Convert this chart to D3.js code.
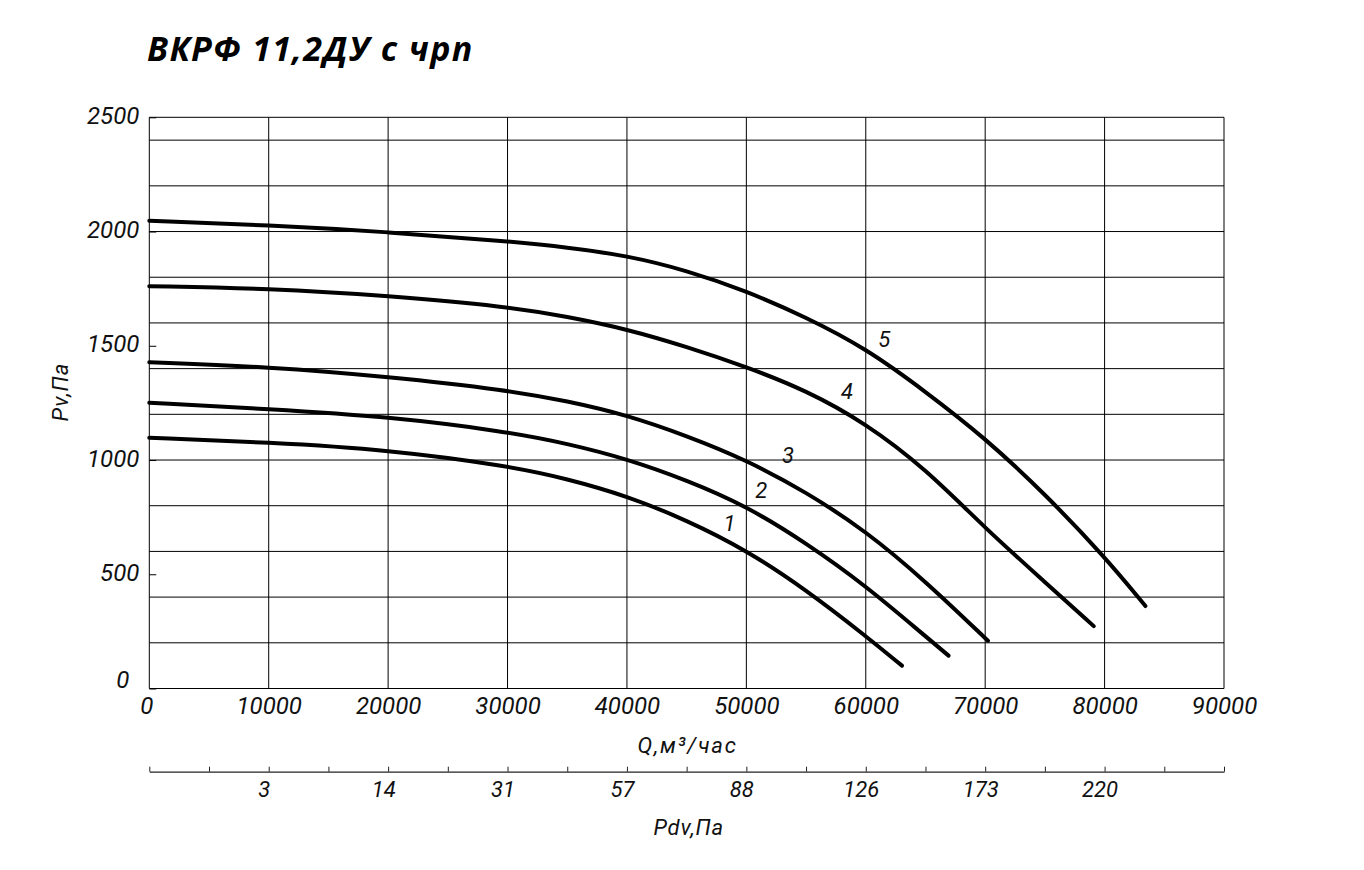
<!DOCTYPE html>
<html>
<head>
<meta charset="utf-8">
<script src="https://cdn.jsdelivr.net/npm/d3@7"></script>
<style>
  html, body { margin: 0; padding: 0; background: #fff; }
  svg { display: block; }
  .tick text { font-family: Roboto, "Liberation Sans", sans-serif; font-style: italic; fill: #111; }
</style>
</head>
<body>
<svg id="chart" width="1364" height="870"></svg>
<script>
// ---------- data ----------
const titleText = "ВКРФ 11,2ДУ с чрп";
const qTicks = [0, 10000, 20000, 30000, 40000, 50000, 60000, 70000, 80000, 90000];
const pvTicks = [0, 500, 1000, 1500, 2000, 2500];
const pvGrid = [0, 200, 400, 600, 800, 1000, 1200, 1400, 1600, 1800, 2000, 2200, 2400, 2500];
const pdvTickQ = [0, 5000, 10000, 15000, 20000, 25000, 30000, 35000, 40000, 45000, 50000, 55000, 60000, 65000, 70000, 75000, 80000, 85000, 90000];
const pdvLabelQ = [10000, 20000, 30000, 40000, 50000, 60000, 70000, 80000];
const pdvLabels = ["3", "14", "31", "57", "88", "126", "173", "220"];
const xTitle = "Q,м³/час";
const yTitle = "Pv,Па";
const x2Title = "Pdv,Па";

const curve1 = [[0,1098],[10000,1077],[20000,1045],[30000,975],[35000,918],[40000,843],[45000,737],[50000,606],[55000,432],[60000,230],[63030,100]];
const curve2 = [[0,1251],[10000,1223],[20000,1190],[30000,1124],[35000,1072],[40000,1005],[45000,912],[50000,799],[55000,637],[60000,450],[65000,228],[66930,144]];
const curve3 = [[0,1428],[10000,1408],[20000,1365],[30000,1306],[35000,1258],[40000,1197],[45000,1106],[50000,1000],[55000,860],[60000,690],[65000,470],[70230,209]];
const curve4 = [[0,1761],[10000,1751],[20000,1719],[30000,1671],[35000,1628],[40000,1573],[45000,1496],[50000,1408],[55000,1305],[60000,1161],[65000,962],[70000,701],[75000,466],[79090,273]];
const curve5 = [[0,2047],[10000,2028],[20000,1998],[30000,1958],[35000,1931],[40000,1895],[45000,1830],[50000,1740],[55000,1625],[60000,1489],[65000,1300],[70000,1096],[75000,852],[80000,577],[83420,361]];
const curves = [curve1, curve2, curve3, curve4, curve5];
const curveNames = ["1", "2", "3", "4", "5"];
const curveLabelPos = [[48590,723],[51240,866],[53480,1022],[58420,1302],[61550,1530]];

// ---------- drawing ----------
(function () {
const svg = d3.select("#chart");
const mLeft = 149.3, mRight = 1224, mTop = 117.3, mBottom = 688.5;
const x = d3.scaleLinear().domain([0, 90000]).range([mLeft, mRight]);
const y = d3.scaleLinear().domain([0, 2500]).range([mBottom, mTop]);

svg.append("rect").attr("width", 1364).attr("height", 870).attr("fill", "#fff");

// title
svg.append("text")
  .attr("x", 147).attr("y", 61)
  .attr("font-family", "'Open Sans', 'Noto Sans', sans-serif")
  .attr("font-weight", 700).attr("font-style", "italic")
  .attr("font-size", 34)
  .attr("letter-spacing", 1.3)
  .attr("fill", "#000")
  .text(titleText);

// grid
const grid = svg.append("g");
grid.selectAll("line.v").data(qTicks).join("line").attr("class", "v")
  .attr("x1", d => x(d)).attr("x2", d => x(d))
  .attr("y1", y(0)).attr("y2", y(2500))
  .attr("stroke", "#000").attr("stroke-width", 1);
grid.selectAll("line.h").data(pvGrid).join("line").attr("class", "h")
  .attr("y1", d => y(d)).attr("y2", d => y(d))
  .attr("x1", x(0)).attr("x2", x(90000))
  .attr("stroke", "#000").attr("stroke-width", 1);

// x axis (Q)
const xAxis = svg.append("g").attr("transform", `translate(0,${mBottom})`)
  .call(d3.axisBottom(x).tickValues(qTicks).tickSize(0).tickPadding(8).tickFormat(d3.format("d")));
xAxis.select(".domain").remove();
xAxis.selectAll("text").attr("font-size", 24);
xAxis.selectAll(".tick").filter(d => d === 0).select("text").attr("dx", "-3");

// y axis (Pv)
const yAxis = svg.append("g").attr("transform", `translate(${mLeft},0)`)
  .call(d3.axisLeft(y).tickValues(pvTicks).tickSizeInner(-7).tickSizeOuter(0).tickPadding(10).tickFormat(d3.format("d")));
yAxis.select(".domain").remove();
yAxis.selectAll(".tick line").attr("stroke", "#000");
yAxis.selectAll("text").attr("font-size", 24).attr("dy", "0.25em");
yAxis.selectAll(".tick").filter(d => d === 0).select("text").attr("dy", "-0.05em").attr("x", -20);

// axis titles
svg.append("text")
  .attr("x", (mLeft + mRight) / 2 + 1).attr("y", 753)
  .attr("text-anchor", "middle")
  .attr("font-family", "Roboto, sans-serif").attr("font-style", "italic")
  .attr("font-size", 22).attr("letter-spacing", 1.8).attr("fill", "#111")
  .text(xTitle);

svg.append("text")
  .attr("transform", `translate(68,392) rotate(-90)`)
  .attr("text-anchor", "middle")
  .attr("font-family", "Roboto, sans-serif").attr("font-style", "italic")
  .attr("font-size", 22).attr("letter-spacing", 1).attr("fill", "#111")
  .text(yTitle);

// secondary axis (Pdv)
const pdvMap = new Map(pdvLabelQ.map((q, i) => [q, pdvLabels[i]]));
const x2 = svg.append("g").attr("transform", "translate(0,771.7)")
  .call(d3.axisBottom(x).tickValues(pdvTickQ).tickSizeInner(-5).tickSizeOuter(0).tickPadding(10)
    .tickFormat(d => pdvMap.has(d) ? pdvMap.get(d) : ""));
x2.select(".domain").attr("stroke", "#222").attr("stroke-width", 1.2);
x2.selectAll(".tick line").attr("stroke", "#222");
x2.selectAll("text").attr("font-size", 22).attr("dx", "-5");

svg.append("text")
  .attr("x", (mLeft + mRight) / 2 + 2).attr("y", 835)
  .attr("text-anchor", "middle")
  .attr("font-family", "Roboto, sans-serif").attr("font-style", "italic")
  .attr("font-size", 22).attr("letter-spacing", 0.8).attr("fill", "#111")
  .text(x2Title);

// curves
const line = d3.line().x(d => x(d[0])).y(d => y(d[1])).curve(d3.curveBasis);
svg.append("g").selectAll("path").data(curves).join("path")
  .attr("d", line)
  .attr("fill", "none").attr("stroke", "#000").attr("stroke-width", 4)
  .attr("stroke-linecap", "round").attr("stroke-linejoin", "round");

// curve labels
svg.append("g").selectAll("text").data(curveLabelPos).join("text")
  .attr("x", d => x(d[0])).attr("y", d => y(d[1]))
  .attr("dy", "0.35em").attr("text-anchor", "middle")
  .attr("font-family", "Roboto, sans-serif").attr("font-style", "italic")
  .attr("font-size", 22).attr("fill", "#111")
  .text((d, i) => curveNames[i]);
})();
</script>
</body>
</html>
